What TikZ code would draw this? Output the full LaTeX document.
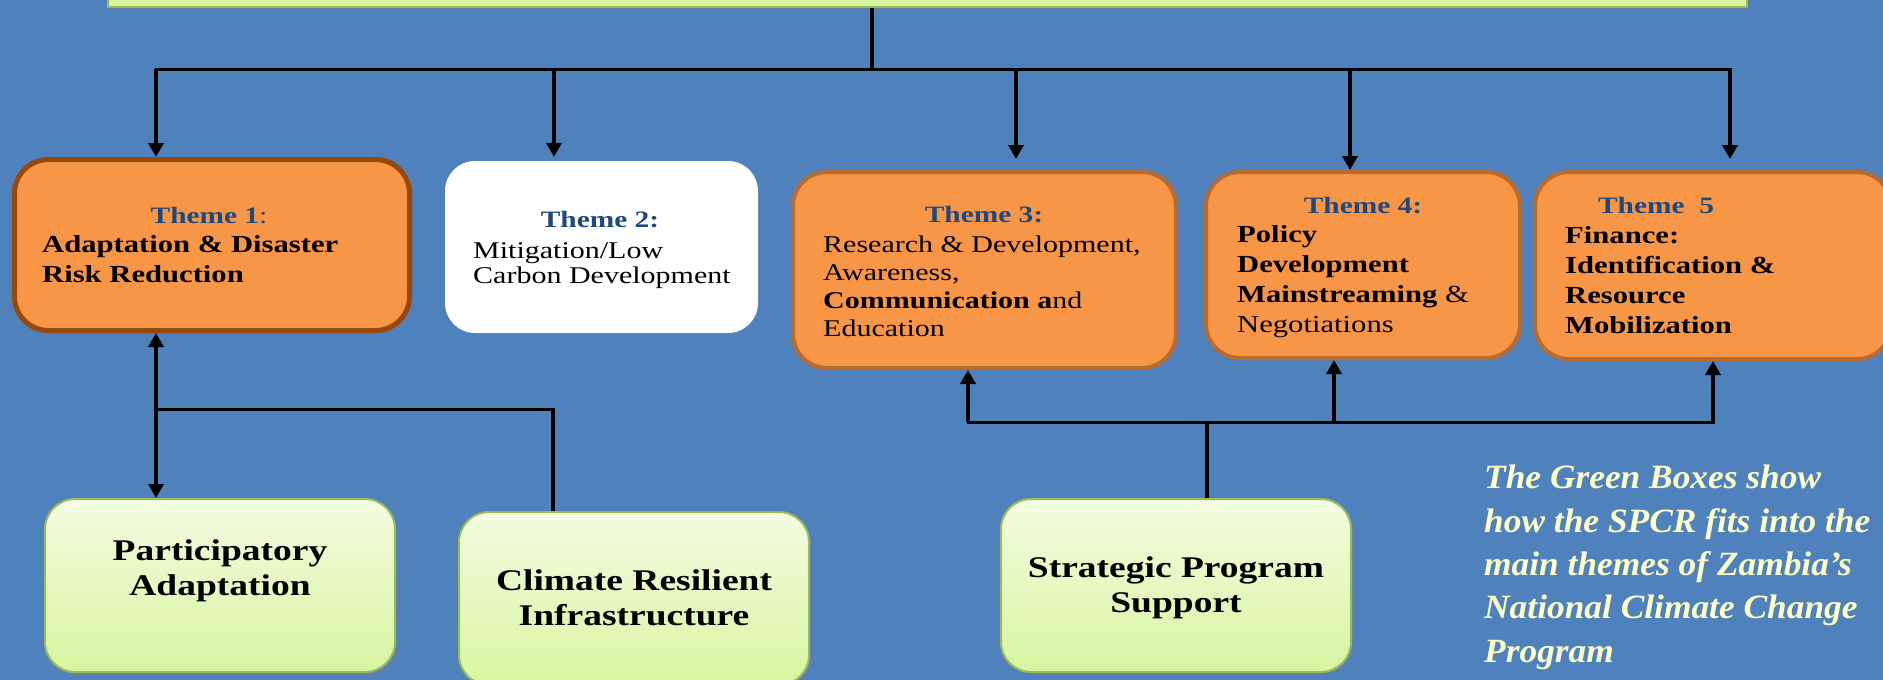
\documentclass[tikz,border=0pt]{standalone}
\usepackage{fontspec}
\usetikzlibrary{arrows.meta,shadows}
\newfontfamily\boxfont{Liberation Serif}[FakeStretch=1.25]
\newfontfamily\notefont{Liberation Serif}[FakeStretch=1.04]
\definecolor{bgblue}{HTML}{4F81BD}
\definecolor{themeorange}{HTML}{F79646}
\definecolor{themeedge}{HTML}{B96A2E}
\definecolor{themeedgedark}{HTML}{984807}
\definecolor{headblue}{HTML}{1F497D}
\definecolor{greentop}{HTML}{F3FCE2}
\definecolor{greenbot}{HTML}{D7F5A0}
\definecolor{greenedge}{HTML}{9BBB59}
\definecolor{notecol}{HTML}{FFFFC8}
\tikzset{
  theme/.style={draw=themeedge, line width=4pt, fill=themeorange, rounded corners=34pt},
  spcr/.style={draw=greenedge, line width=2pt, top color=greentop, bottom color=greenbot,
    rounded corners=30pt, minimum width=350pt, minimum height=173pt,
    drop shadow={shadow xshift=2pt, shadow yshift=-3pt, opacity=0.35}},
  spcrtext/.style={font=\boxfont\fontsize{30}{35}\selectfont\bfseries, align=center, anchor=base, inner sep=0pt},
  head/.style={font=\boxfont\fontsize{23.5}{28}\selectfont\bfseries, text=headblue, anchor=base, inner sep=0pt},
  body/.style={font=\boxfont\fontsize{24}{29.5}\selectfont, align=left, anchor=base west, inner sep=0pt},
  note/.style={font=\notefont\fontsize{34}{43.3}\selectfont\bfseries\itshape, text=notecol, align=left, anchor=base west, inner sep=0pt},
  bus/.style={line width=3pt, line cap=rect},
  feed/.style={line width=4.5pt},
  arr/.style={line width=4.5pt, -{Triangle[width=15pt,length=14pt]}},
  dblarr/.style={line width=4.5pt, {Triangle[width=15pt,length=14pt]}-{Triangle[width=15pt,length=14pt]}},
}
\begin{document}
\begin{tikzpicture}[x=1pt, y=-1pt]
  \useasboundingbox (0,0) rectangle (1883,680);
  \clip (0,0) rectangle (1883,680);
  \fill[bgblue] (0,0) rectangle (1883,680);

  % top programme box (only its lower edge shows)
  \node[draw=greenedge, line width=2.5pt, fill=greenbot, minimum width=1639pt, minimum height=60pt,
    drop shadow={shadow xshift=2pt, shadow yshift=-3pt, opacity=0.35}] (top) at (927.5,-23) {};

  % themes
  \node[theme, draw=themeedgedark, line width=5pt, minimum width=395pt, minimum height=171pt] (t1) at (212,245) {};
  \node[fill=white, rounded corners=30pt, minimum width=313pt, minimum height=172pt] (t2) at (601.5,247) {};
  \node[theme, minimum width=383pt, minimum height=196pt] (t3) at (984.5,270) {};
  \node[theme, minimum width=314pt, minimum height=186pt] (t4) at (1363,265) {};
  \node[theme, minimum width=356pt, minimum height=187pt] (t5) at (1713,265.5) {};

  % theme texts (anchored on their last baseline)
  \node[head] (t1head) at (209,223) {Theme 1\mdseries:};
  \node[body, font=\boxfont\fontsize{24.5}{29.5}\selectfont\bfseries] (t1body) at (42,282) {Adaptation \& Disaster\\Risk Reduction};
  \node[head] (t2head) at (600,227) {Theme 2:};
  \node[body, font=\boxfont\fontsize{24}{25}\selectfont] (t2body) at (473,283) {Mitigation/Low\\Carbon Development};
  \node[head] (t3head) at (984,222) {Theme 3:};
  \node[body, font=\boxfont\fontsize{24}{28}\selectfont] (t3body) at (823,336) {Research \& Development,\\Awareness,\\\textbf{Communication a}nd\\Education};
  \node[head] (t4head) at (1363,213) {Theme 4:};
  \node[body, font=\boxfont\fontsize{24.5}{29.7}\selectfont] (t4body) at (1237,332) {\textbf{Policy}\\\textbf{Development}\\\textbf{Mainstreaming} \&\\Negotiations};
  \node[head] (t5head) at (1656,213) {Theme~~5};
  \node[body, font=\boxfont\fontsize{24.5}{30}\selectfont\bfseries] (t5body) at (1565,333) {Finance:\\Identification \&\\Resource\\Mobilization};

  % SPCR components
  \node[spcr] (pa) at (220,585.5) {};
  \node[spcr] (cri) at (634,598.5) {};
  \node[spcr] (sps) at (1176,585.5) {};
  \node[spcrtext] (patext) at (220,595) {Participatory\\Adaptation};
  \node[spcrtext] (critext) at (634,625) {Climate Resilient\\Infrastructure};
  \node[spcrtext] (spstext) at (1176,612) {Strategic Program\\Support};

  \node[note] (memo) at (1484,662) {The Green Boxes show\\how the SPCR fits into the\\main themes of Zambia’s\\National Climate Change\\Program};

  % links down to the themes
  \coordinate (hub) at (872,69);
  \coordinate (b1) at (156,69);
  \coordinate (b2) at (554,69);
  \coordinate (b3) at (1016,69);
  \coordinate (b4) at (1350,69);
  \coordinate (b5) at (1730,69);
  \draw[feed] (top.south -| hub) -- (hub);
  \draw[bus] (b1) -- (b5);
  \draw[arr] (b1) -- (b1 |- t1.north);
  \draw[arr, shorten >=4pt] (b2) -- (b2 |- t2.north);
  \draw[arr, shorten >=11pt] (b3) -- (b3 |- t3.north);
  \draw[arr] (b4) -- (b4 |- t4.north);
  \draw[arr, shorten >=11pt] (b5) -- (b5 |- t5.north);

  % links up from the SPCR boxes
  \coordinate (j1) at (156,409);
  \coordinate (j2) at (553,409);
  \draw[dblarr] (j1 |- t1.south) -- (j1 |- pa.north);
  \draw[bus] (j1) -- (j2);
  \draw[feed] (j2) -- (j2 |- cri.north);

  \coordinate (s0) at (1207,422);
  \coordinate (s3) at (968,422);
  \coordinate (s4) at (1334,422);
  \coordinate (s5) at (1713,422);
  \draw[feed] (s0 |- sps.north) -- (s0);
  \draw[bus] (s3) -- (s5);
  \draw[arr] (s3) -- (s3 |- t3.south);
  \draw[arr] (s4) -- (s4 |- t4.south);
  \draw[arr] (s5) -- (s5 |- t5.south);
\end{tikzpicture}
\end{document}
